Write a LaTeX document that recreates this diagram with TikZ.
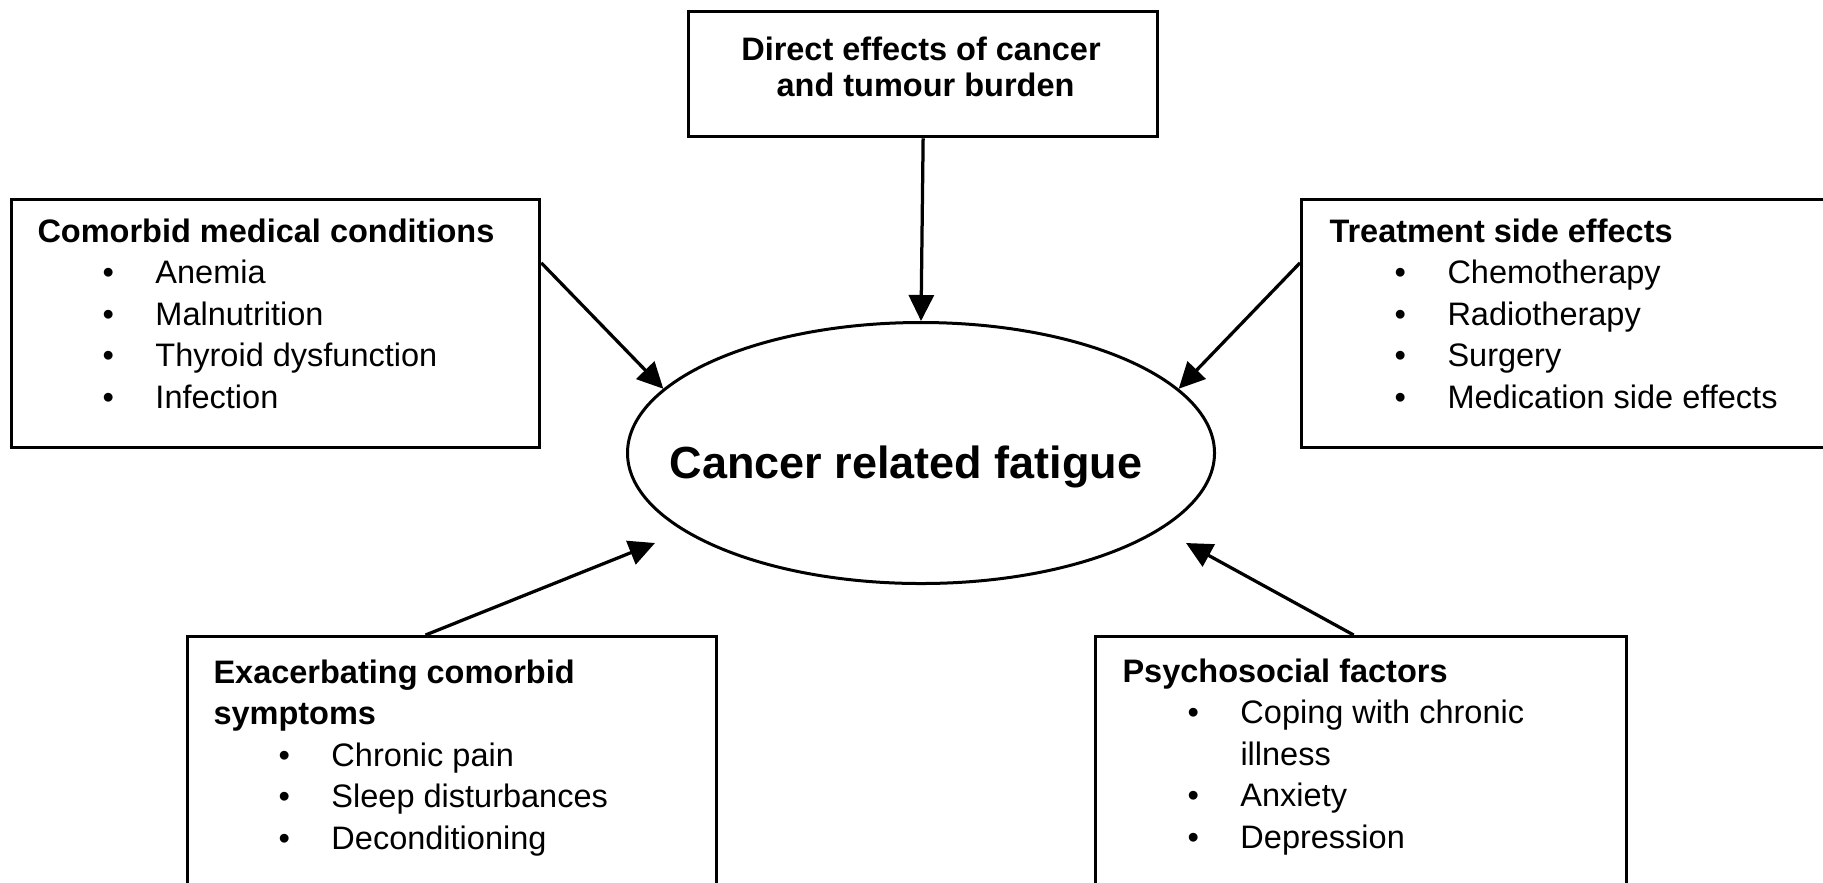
\documentclass[tikz,border=0pt]{standalone}
\usepackage{fontspec}
\setmainfont{Liberation Sans}
\usetikzlibrary{arrows.meta,calc,shapes.geometric}
\newcommand{\itm}[1]{\hspace*{26pt}\makebox[21.2pt][l]{•}#1}
\newcommand{\itc}[1]{\hspace*{47.2pt}#1}
\begin{document}
\begin{tikzpicture}[x=0.4pt,y=-0.4pt,
  box/.style={draw, line width=1.3pt, rectangle, inner sep=0pt, anchor=north west},
  arr/.style={line width=1.3pt, -{Triangle[length=10.4pt,width=10pt]}},
  txt/.style={inner sep=0pt, anchor=base west, font=\fontsize{13}{16.6}\selectfont}]
\useasboundingbox (0,0) rectangle (1823,882);
\clip (0,0) rectangle (1823,882);
% boxes
\node[box, minimum width=187.6pt, minimum height=50pt] (dir) at (687,10) {};
\node[box, minimum width=211.2pt, minimum height=99.2pt] (cmb) at (10,198) {};
\node[box, minimum width=220pt, minimum height=99.2pt] (trt) at (1300,198) {};
\node[box, minimum width=211.6pt, minimum height=120pt] (exa) at (186,635) {};
\node[box, minimum width=212.4pt, minimum height=120pt] (psy) at (1094,635) {};
\node[draw, ellipse, line width=1.2pt, inner sep=0pt, minimum width=234.8pt, minimum height=104.4pt] (fat) at (921,453) {};
% texts
\node[inner sep=0pt, anchor=base, font=\fontsize{13}{14.4}\selectfont\bfseries] (dirt) at (921,60) {\begin{tabular}[t]{@{}c@{}}Direct effects of cancer\\\hspace*{0.278em}and tumour burden\end{tabular}};
\node[inner sep=0pt, anchor=base, font=\fontsize{18}{20}\selectfont\bfseries] (fatt) at (906,478) {Cancer related fatigue};
\node[txt] (cmbt) at (37,242) {\begin{tabular}[t]{@{}l@{}}\textbf{Comorbid medical conditions}\\
\itm{Anemia}\\ \itm{Malnutrition}\\ \itm{Thyroid dysfunction}\\ \itm{Infection}\end{tabular}};
\node[txt] (trtt) at (1329,242) {\begin{tabular}[t]{@{}l@{}}\textbf{Treatment side effects}\\
\itm{Chemotherapy}\\ \itm{Radiotherapy}\\ \itm{Surgery}\\ \itm{Medication side effects}\end{tabular}};
\node[txt] (exat) at (213,683) {\begin{tabular}[t]{@{}l@{}}\textbf{Exacerbating comorbid}\\ \textbf{symptoms}\\
\itm{Chronic pain}\\ \itm{Sleep disturbances}\\ \itm{Deconditioning}\end{tabular}};
\node[txt] (psyt) at (1122,682) {\begin{tabular}[t]{@{}l@{}}\textbf{Psychosocial factors}\\
\itm{Coping with chronic}\\ \itc{illness}\\ \itm{Anxiety}\\ \itm{Depression}\end{tabular}};
% arrow ends
\coordinate (blt) at ($(fat.center)+(-266,90)$);
\coordinate (brt) at ($(fat.center)+(265,90)$);
% arrows
\draw[arr] (dir.south) -- (fat.north);
\draw[arr] ($(cmb.north east)!0.258!(cmb.south east)$) -- (fat.166);
\draw[arr] ($(trt.north west)!0.258!(trt.south west)$) -- (fat.14.6);
\draw[arr] ($(exa.north west)!0.45!(exa.north east)$) -- (blt);
\draw[arr] ($(psy.north west)!0.486!(psy.north east)$) -- (brt);
\end{tikzpicture}
\end{document}
